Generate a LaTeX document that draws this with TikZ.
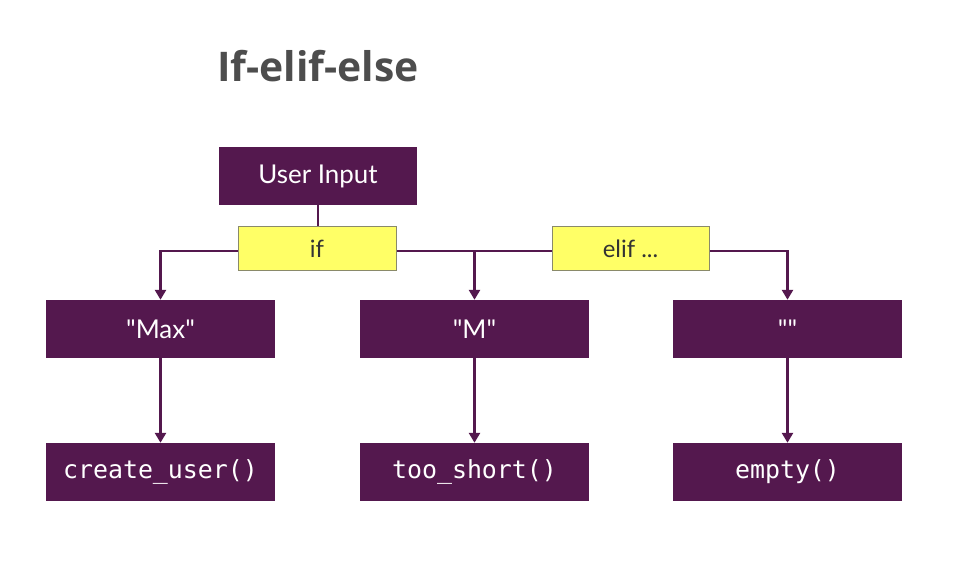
\documentclass[tikz,border=0pt]{standalone}
\usepackage{fontspec}
\setmainfont{Lato}
\newfontfamily\titlefont{Open Sans}
\setmonofont{DejaVu Sans Mono}
\usetikzlibrary{arrows.meta}
\definecolor{boxpurple}{HTML}{54184E}
\definecolor{ylw}{HTML}{FFFF66}
\definecolor{ylwborder}{HTML}{8A8A6A}
\definecolor{titlegray}{HTML}{4D4D4D}
\tikzset{
  pbox/.style={fill=boxpurple, draw=none, text=white, minimum width=229bp, minimum height=58bp, inner sep=0pt, font=\fontsize{26}{30}\selectfont},
  codebox/.style={pbox, font=\ttfamily\fontsize{25}{28}\selectfont},
  ybox/.style={fill=ylw, draw=ylwborder, line width=1bp, text=black!80, minimum width=157bp, minimum height=43bp, inner sep=0pt, font=\fontsize{24}{28}\selectfont},
  conn/.style={draw=boxpurple, line width=2.6bp},
  arr/.style={conn, -{Triangle[length=10bp,width=11bp]}},
}
\begin{document}
\begin{tikzpicture}[x=1bp,y=-1bp]
\useasboundingbox (0,0) rectangle (966,567);
\node[anchor=base west, text=titlegray, font=\titlefont\bfseries\fontsize{41}{48}\selectfont, inner sep=0pt] (title) at (217,82) {If-elif-else};
\node[pbox, minimum width=198bp] (ui) at (318,176) {User Input};
\node[pbox] (max) at (160.5,329) {\textquotedbl Max\textquotedbl};
\node[pbox] (m) at (474.5,329) {\textquotedbl M\textquotedbl};
\node[pbox] (e) at (787.5,329) {\textquotedbl\textquotedbl};
\node[codebox] (cu) at (160.5,472) {create\_user()};
\node[codebox] (ts) at (474.5,472) {too\_short()};
\node[codebox] (em) at (787.5,472) {empty()};
\coordinate (h) at (318,251);
\draw[conn] (ui.south) -- (h);
\draw[arr] (h) -| (max.north);
\draw[arr] (h) -| (m.north);
\draw[arr] (h) -| (e.north);
\draw[arr] (max.south) -- (cu.north);
\draw[arr] (m.south) -- (ts.north);
\draw[arr] (e.south) -- (em.north);
\node[ybox, minimum width=158bp] (if) at (317,248.5) {if};
\node[ybox] (elif) at (630.5,248.5) {elif ...};
\end{tikzpicture}
\end{document}
